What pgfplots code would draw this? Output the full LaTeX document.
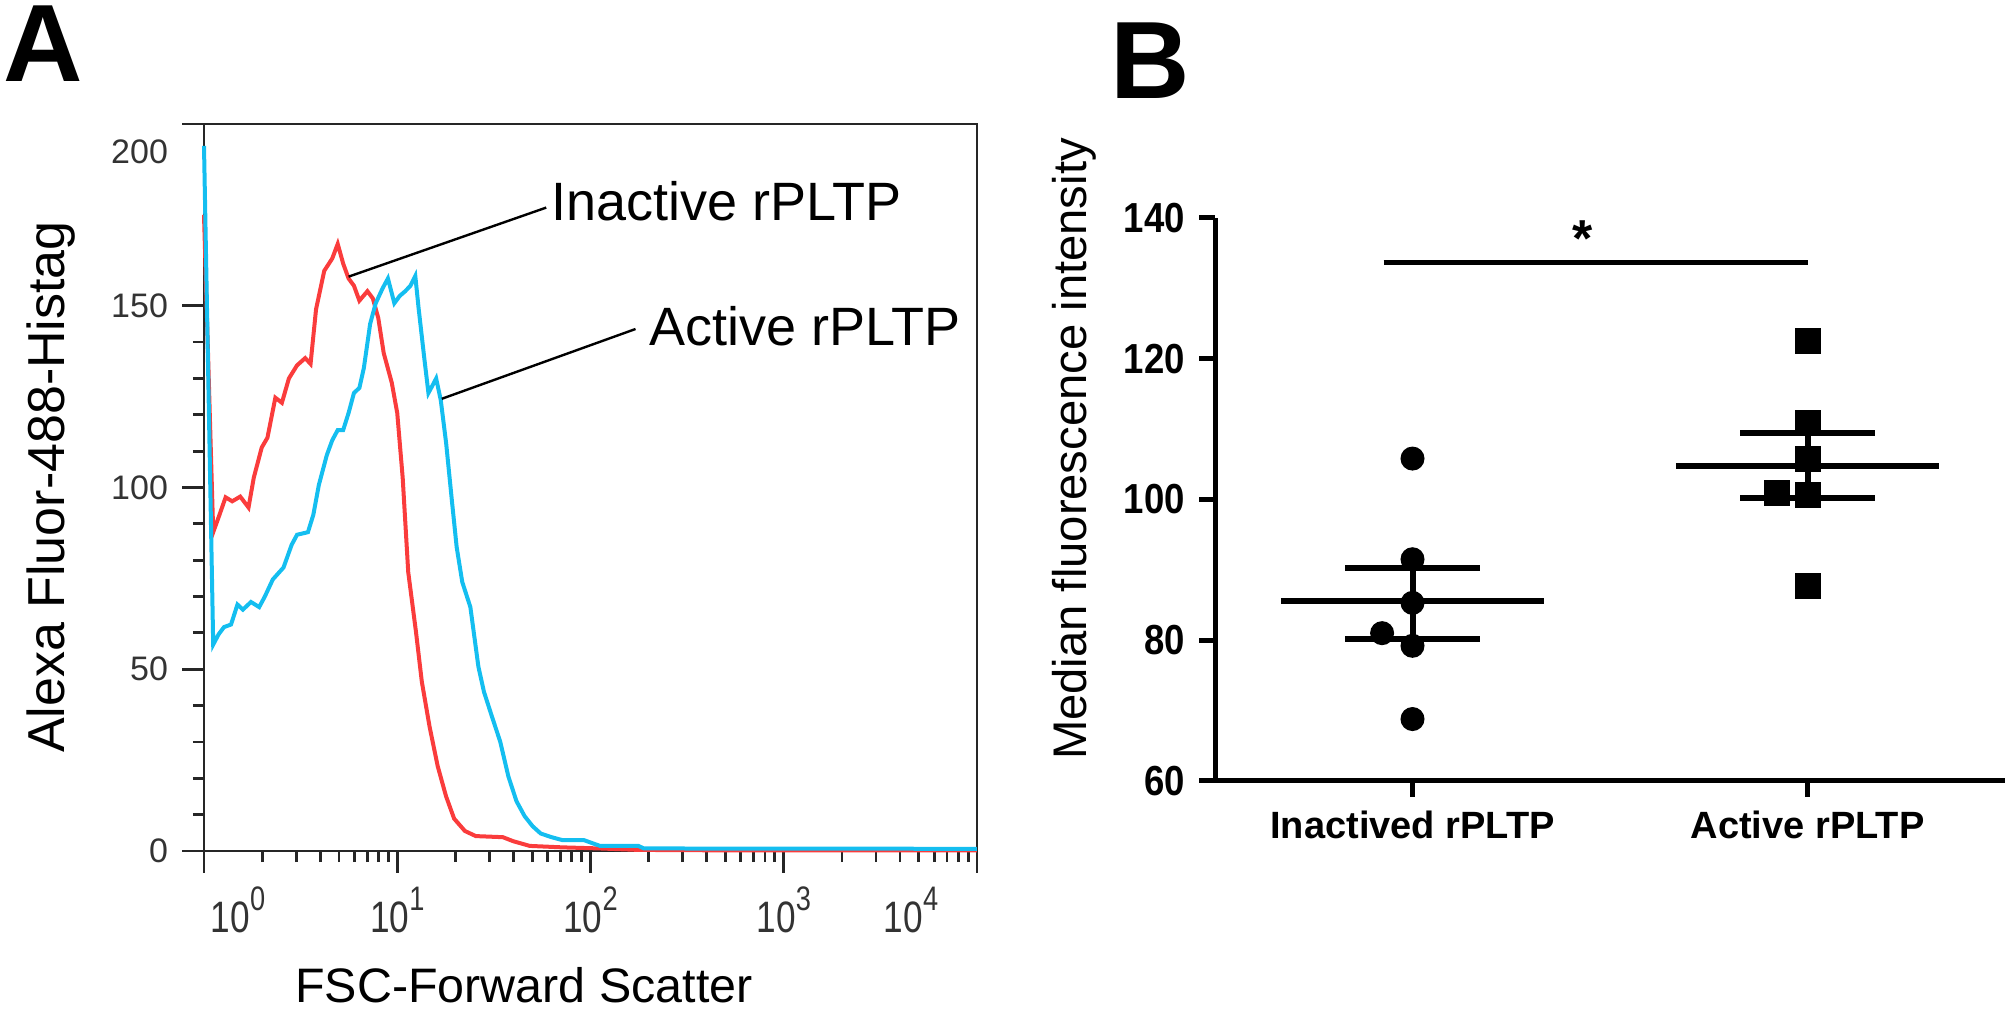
\documentclass[border=0pt]{standalone}
\usepackage{fontspec}
\setmainfont{Liberation Sans}
\newfontfamily\condb[FakeStretch=0.87]{Liberation Sans}
\newfontfamily\condn[FakeStretch=0.8]{Liberation Sans}
\usepackage{pgfplots}
\pgfplotsset{compat=1.18}
\definecolor{redc}{RGB}{250,60,60}
\definecolor{bluec}{RGB}{20,190,240}
\newcommand\fs[1]{\fontsize{#1}{#1}\selectfont}
\newcommand\dec[1]{10\raisebox{5.5bp}{\fs{8.5bp}#1}}
\begin{document}
\begin{tikzpicture}
\useasboundingbox (0,0) rectangle (502.5bp,252.25bp);
\node[font=\bfseries\fs{27.5bp}, inner sep=0] at (10.9bp,241.4bp) {A};
\node[font=\bfseries\fs{27.5bp}, inner sep=0] at (287.5bp,237bp) {B};
\node[rotate=90, font=\fs{13bp}, inner sep=0] at (12.75bp,130.5bp) {Alexa Fluor-488-Histag};
\node[font=\fs{12.1bp}, inner sep=0] at (131bp,6bp) {FSC-Forward Scatter};
\node[rotate=90, font=\fs{11.8bp}, inner sep=0] at (268.5bp,140bp) {Median fluorescence intensity};

% Panel A
\begin{axis}[
  at={(51bp,39.5bp)}, anchor=south west, scale only axis,
  width=193.25bp, height=181.75bp,
  xmode=log, xmin=1, xmax=10000, ymin=0, ymax=200,
  axis line style={black!85, line width=0.7bp},
  tick align=outside, xtick pos=bottom, ytick pos=left,
  ytick={0,50,100,150}, minor y tick num=4,
  yticklabels={0,50,100,150},
  extra y ticks={200}, extra y tick labels={200},
  extra y tick style={yticklabel style={yshift=-7bp}},
  xtick={1,10,100,1000,10000},
  minor xtick={2,3,4,5,6,7,8,9,20,30,40,50,60,70,80,90,200,300,400,500,600,700,800,900,2000,3000,4000,5000,6000,7000,8000,9000},
  xticklabels={\hspace*{17bp}\dec{0},\dec{1},\dec{2},\dec{3},\dec{4}\hspace*{33bp}},
  major tick length=5.5bp, minor tick length=2.8bp,
  tick style={black!85, line width=0.7bp},
  yticklabel style={font=\fs{8.5bp}, text=black!80},
  xticklabel style={font=\condn\fs{11bp}, text=black!80},
  clip=false,
]
\addplot[redc, line width=1bp] coordinates {
(1.0,175) (1.116,87.7) (1.19,91.8) (1.294,97.3) (1.40,96.2) (1.54,97.5) (1.70,94.5)
(1.81,102.7) (1.99,111) (2.13,113.7) (2.34,124.7) (2.53,123.3) (2.75,130) (3.03,133.6)
(3.34,135.6) (3.56,134) (3.80,149) (4.19,159.6) (4.61,163) (4.92,167) (5.25,161.6)
(5.60,157.5) (5.97,155.5) (6.37,151.4) (7.01,154) (7.48,152) (7.98,146.6) (8.51,137)
(9.37,128.8) (10,120.5) (10.67,102.7) (11.4,76.7) (12.5,60.3) (13.4,46.6) (14.7,34.2)
(16.2,23.3) (17.9,15) (19.7,8.9) (22.4,5.5) (25.5,4.1) (35.2,3.8) (39.8,2.7) (48.5,1.4)
(71.5,1.0) (112,0.7) (177,0.3) (400,0.2) (10000,0.2)
};
\addplot[bluec, line width=1bp] coordinates {
(1.0,194) (1.116,56.8) (1.19,59.6) (1.27,61.6) (1.38,62.3) (1.49,67.8) (1.59,66.4)
(1.75,68.5) (1.93,67.1) (2.06,69.9) (2.27,74.7) (2.58,78) (2.84,84.2) (3.03,87)
(3.45,87.7) (3.68,92.5) (3.93,100.7) (4.32,108.9) (4.61,113) (4.92,115.8) (5.25,115.8)
(5.60,120.5) (5.97,126) (6.37,127.4) (6.72,132.9) (7.24,145) (7.74,150.7) (8.40,154.8)
(8.95,157.5) (9.66,150.7) (10.3,152.7) (11.0,154) (11.7,155.5) (12.4,158.2) (12.9,149.3)
(13.8,135.6) (14.5,126) (15.2,128) (15.9,130) (16.8,124) (17.9,112.3) (19.1,97.3)
(20.3,83.6) (21.7,74) (23.9,67.1) (26.3,50.7) (28.1,43.8) (30.9,37) (34.1,30.1)
(37.6,20.5) (41.4,13.7) (45.6,9.6) (50.2,6.8) (55.3,4.8) (62.9,3.8) (71.5,3.0)
(92.4,3.0) (112,1.4) (177,1.4) (189,0.7) (10000,0.6)
};
\draw[black, line width=0.6bp] (axis cs:5.6,158) -- (axis cs:59,177);
\draw[black, line width=0.6bp] (axis cs:17,124.4) -- (axis cs:171,143.6);
\node[anchor=west, font=\fs{13.5bp}, inner sep=0] at (axis cs:62,178.8) {Inactive rPLTP};
\node[anchor=west, font=\fs{13.5bp}, inner sep=0] at (axis cs:201,144.5) {Active rPLTP};
\end{axis}

% Panel B
\begin{axis}[
  at={(303.75bp,57bp)}, anchor=south west, scale only axis,
  width=197.5bp, height=140.8bp,
  xmin=0.5, xmax=2.5, ymin=60, ymax=140,
  axis x line*=bottom, axis y line*=left,
  axis line style={line width=1.25bp, black},
  xtick={1,2}, xticklabels={Inactived rPLTP, Active rPLTP},
  ytick={60,80,100,120,140}, yticklabels={60,80,100,120,140},
  tick align=outside, major tick length=4bp,
  tick style={line width=1.25bp, black},
  yticklabel style={font=\condb\bfseries\fs{10.5bp}},
  xticklabel style={font=\bfseries\fs{9.5bp}},
  clip=false,
]
\addplot[only marks, mark=*, mark size=2.8bp, black] coordinates {
(1,105.8) (1,91.5) (1,85.3) (0.923,81.0) (1,79.2) (1,68.8)
};
\addplot[only marks, mark=square*, mark size=3.05bp, black] coordinates {
(2,122.5) (2,110.9) (2,105.8) (2,100.6) (1.922,100.9) (2,87.7)
};
% means and SEM
\addplot[black, line width=1.5bp] coordinates {(0.667,85.5) (1.333,85.5)};
\addplot[black, line width=1.5bp] coordinates {(0.83,90.2) (1.17,90.2)};
\addplot[black, line width=1.5bp] coordinates {(0.83,80.1) (1.17,80.1)};
\addplot[black, line width=1.5bp] coordinates {(1,80.1) (1,90.2)};
\addplot[black, line width=1.5bp] coordinates {(1.667,104.8) (2.333,104.8)};
\addplot[black, line width=1.5bp] coordinates {(1.83,109.4) (2.17,109.4)};
\addplot[black, line width=1.5bp] coordinates {(1.83,100.2) (2.17,100.2)};
\addplot[black, line width=1.5bp] coordinates {(2,100.2) (2,109.4)};
% significance
\addplot[black, line width=1.25bp] coordinates {(0.927,133.6) (2.0,133.6)};
\node[font=\bfseries\fs{13bp}, inner sep=0] at (axis cs:1.43,137.1) {*};
\end{axis}
\end{tikzpicture}
\end{document}
